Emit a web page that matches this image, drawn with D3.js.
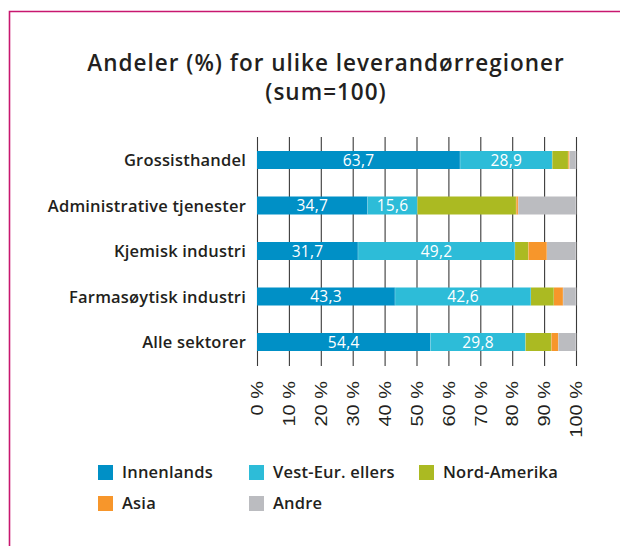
<!DOCTYPE html>
<html>
<head>
<meta charset="utf-8">
<script src="https://cdn.jsdelivr.net/npm/d3@7"></script>
<style>
  body { margin: 0; background: #fff; }
  svg text { font-family: "Open Sans", Lato, sans-serif; fill: #231f20; }
</style>
</head>
<body>
<div id="chart"></div>
<script>
// Data
var categories = ["Grossisthandel", "Administrative tjenester", "Kjemisk industri", "Farmasøytisk industri", "Alle sektorer"];
var seriesNames = ["Innenlands", "Vest-Eur. ellers", "Nord-Amerika", "Asia", "Andre"];
var innenlands = [63.7, 34.7, 31.7, 43.3, 54.4];
var vestEur = [28.9, 15.6, 49.2, 42.6, 29.8];
var nordAmerika = [5.0, 31.0, 4.2, 7.2, 8.1];
var asia = [0.4, 0.6, 5.8, 2.9, 2.2];
var andre = [2.0, 18.1, 9.1, 4.0, 5.5];
var tickValues = [0, 10, 20, 30, 40, 50, 60, 70, 80, 90, 100];
var colors = ["#0090c6", "#2dbcd8", "#abba22", "#f7962b", "#bbbcc0"];

var svgWidth = 620, svgHeight = 546;

var svg = d3.select("#chart")
    .append("svg")
    .attr("width", svgWidth)
    .attr("height", svgHeight);

// Magenta frame (top + left)
svg.append("path")
    .attr("d", "M9.5,546 V11.5 H620")
    .attr("fill", "none")
    .attr("stroke", "#c8176f")
    .attr("stroke-width", 1.6);

// Title, two lines
var titleLines = ["Andeler (%) for ulike leverandørregioner", "(sum=100)"];
svg.append("g").selectAll("text")
    .data(titleLines)
    .enter()
    .append("text")
    .attr("x", 326)
    .attr("y", function(d, i) { return 71 + i * 29; })
    .attr("text-anchor", "middle")
    .style("font-size", "22.5px")
    .style("font-weight", "600")
    .style("letter-spacing", "1px")
    .text(function(d) { return d; });

// Build stacked table
var table = categories.map(function(c, i) {
    return {
        cat: c,
        "Innenlands": innenlands[i],
        "Vest-Eur. ellers": vestEur[i],
        "Nord-Amerika": nordAmerika[i],
        "Asia": asia[i],
        "Andre": andre[i]
    };
});
var stacked = d3.stack().keys(seriesNames)(table);

// Scales
var xScale = d3.scaleLinear().domain([0, 100]).range([257, 576]);
var yScale = d3.scalePoint().domain(categories).range([160, 342]);
var barH = 18;
var color = d3.scaleOrdinal().domain(seriesNames).range(colors);

// Gridlines via axis
var gridTop = 137, gridBottom = 366;
var xAxis = d3.axisBottom(xScale)
    .tickValues(tickValues)
    .tickSize(-(gridBottom - gridTop))
    .tickFormat(function(d) { return d + " %"; });

var axisG = svg.append("g")
    .attr("transform", "translate(0," + gridBottom + ")")
    .call(xAxis);
axisG.select(".domain").remove();
axisG.selectAll(".tick line")
    .attr("stroke", "#3a3a3a")
    .attr("stroke-width", 1.1);
// tick labels are set wide in the reference, so stretch along the text
axisG.selectAll(".tick text")
    .attr("transform", "rotate(-90) scale(1.25,1)")
    .attr("text-anchor", "end")
    .attr("x", -12)
    .attr("y", 0)
    .attr("dy", "0.36em")
    .style("font-size", "16px")
    .style("font-family", "'Liberation Sans', Arial, sans-serif")
    .attr("fill", "#231f20");

// Bars
var layers = svg.selectAll("g.layer")
    .data(stacked)
    .enter()
    .append("g")
    .attr("class", "layer")
    .attr("fill", function(d) { return color(d.key); });

layers.selectAll("rect")
    .data(function(d) { return d; })
    .enter()
    .append("rect")
    .attr("x", function(d) { return xScale(d[0]); })
    .attr("width", function(d) { return xScale(d[1]) - xScale(d[0]); })
    .attr("y", function(d) { return yScale(d.data.cat) - barH / 2; })
    .attr("height", barH);

// Segment separators
layers.selectAll("line.sep")
    .data(function(d) { return d; })
    .enter()
    .append("line")
    .attr("class", "sep")
    .attr("x1", function(d) { return xScale(d[1]); })
    .attr("x2", function(d) { return xScale(d[1]); })
    .attr("y1", function(d) { return yScale(d.data.cat) - barH / 2; })
    .attr("y2", function(d) { return yScale(d.data.cat) + barH / 2; })
    .attr("stroke", "#fff")
    .attr("stroke-opacity", 0.6)
    .attr("stroke-width", 0.8);

// Value labels on the first two series
stacked.slice(0, 2).forEach(function(layer) {
    svg.append("g").selectAll("text")
        .data(layer)
        .enter()
        .append("text")
        .attr("x", function(d) { return (xScale(d[0]) + xScale(d[1])) / 2; })
        .attr("y", function(d) { return yScale(d.data.cat) + 5.5; })
        .attr("text-anchor", "middle")
        .style("font-size", "15.5px")
        .style("letter-spacing", "0.3px")
        .style("fill", "#fff")
        .text(function(d) { return (d[1] - d[0]).toFixed(1).replace(".", ","); });
});

// Category labels
svg.append("g").selectAll("text")
    .data(categories)
    .enter()
    .append("text")
    .attr("x", 246)
    .attr("y", function(d) { return yScale(d) + 6; })
    .attr("text-anchor", "end")
    .style("font-size", "16.5px")
    .style("font-weight", "600")
    .style("letter-spacing", "0.2px")
    .text(function(d) { return d; });

// Legend
var legendPos = [[98, 465], [249, 465], [419, 465], [98, 496], [249, 496]];
var legend = svg.append("g").selectAll("g")
    .data(seriesNames)
    .enter()
    .append("g")
    .attr("transform", function(d, i) { return "translate(" + legendPos[i][0] + "," + legendPos[i][1] + ")"; });
legend.append("rect")
    .attr("width", 15)
    .attr("height", 15)
    .attr("fill", function(d) { return color(d); });
legend.append("text")
    .attr("x", 24)
    .attr("y", 13)
    .style("font-size", "16.5px")
    .style("font-weight", "600")
    .style("letter-spacing", "0.2px")
    .text(function(d) { return d; });
</script>
</body>
</html>
